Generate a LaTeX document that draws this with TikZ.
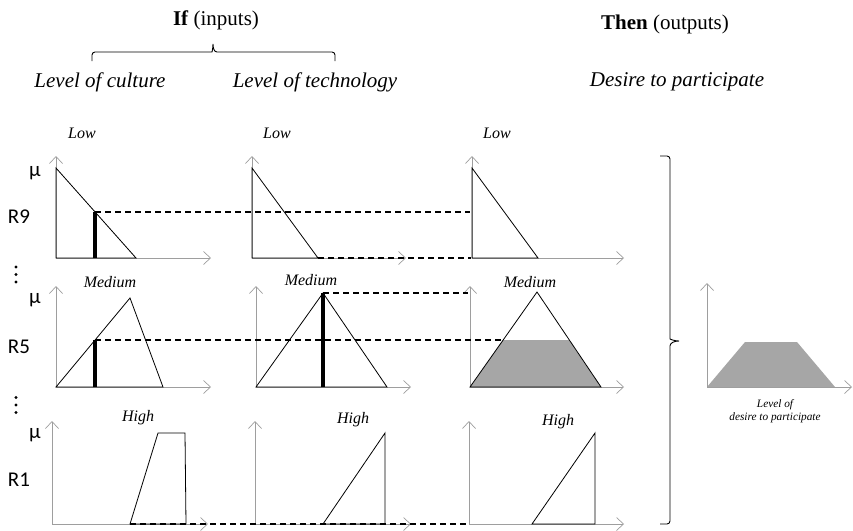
\documentclass[tikz,border=0pt]{standalone}
\usepackage{fontspec}
\setmainfont{Liberation Serif}
\newfontfamily\calib{Carlito}
\usetikzlibrary{arrows.meta}
\begin{document}
\begin{tikzpicture}[x=1pt,y=-1pt,
  axis/.style={draw=black!38, line width=0.7pt, -{Straight Barb[length=7pt,width=13pt]}},
  mf/.style={draw=black, line width=0.8pt},
  cutline/.style={draw=black, dash pattern=on 6pt off 4pt, line width=1.2pt},
  bar/.style={draw=black, line width=4pt},
  setlab/.style={font=\fontsize{16}{18}\selectfont\itshape, inner sep=0pt},
  head/.style={font=\fontsize{21}{24}\selectfont, inner sep=0pt},
  varlab/.style={font=\fontsize{21}{24}\selectfont\itshape, inner sep=0pt},
  rule/.style={font=\calib\fontsize{21}{24}\selectfont, inner sep=0pt},
  small/.style={font=\fontsize{11.3}{13}\selectfont\itshape, inner sep=0pt, align=center},
  outfill/.style={fill=black!35, draw=none},
  bracestyle/.style={draw=black, line width=0.9pt},
  dotmark/.style={fill=black, draw=none}
]
\useasboundingbox (0,0) rectangle (853,530);

% ---------- headers ----------
\node[head] (ifh) at (216,20) {\textbf{If} (inputs)};
\node[head] (thenh) at (665,24) {\textbf{Then} (outputs)};
\draw[bracestyle] (92,61) [rounded corners=3pt] -- (92,52) -- (209,52) [sharp corners]
  .. controls (212,52) and (213,48) .. (213,44)
  .. controls (213,48) and (214,52) .. (217,52) [rounded corners=3pt] -- (335,52) -- (335,61);
\node[varlab] (vculture) at (100,82) {Level of culture};
\node[varlab] (vtech) at (315,82) {Level of technology};
\node[varlab] (vdesire) at (677,82) {Desire to participate};

% ---------- rule labels ----------
\node[rule] (mu1) at (35,173) {μ};
\node[rule] (mu2) at (35,300) {μ};
\node[rule] (mu3) at (35,435) {μ};
\node[rule] (r9) at (19,217) {R9};
\node[rule] (r5) at (19,347) {R5};
\node[rule] (r1) at (19,480) {R1};
\foreach \yy in {267,274.5,282,397.5,405,412.5}
  \fill[dotmark] (16,\yy) circle (1.7);

% ---------- set labels ----------
\node[setlab] (l1) at (82,133) {Low};
\node[setlab] (l2) at (277,133) {Low};
\node[setlab] (l3) at (497,133) {Low};
\node[setlab] (m1) at (110,282) {Medium};
\node[setlab] (m2) at (311,280) {Medium};
\node[setlab] (m3) at (530,282) {Medium};
\node[setlab] (h1) at (138,418) {High};
\node[setlab] (h2) at (353,420) {High};
\node[setlab] (h3) at (558,422) {High};

% ---------- row 1 (R9) ----------
\draw[axis] (56,258) -- (56,156);
\draw[axis] (56,258) -- (211,258);
\draw[axis] (252,258) -- (252,156);
\draw[axis] (252,258) -- (406,258);
\draw[axis] (472,258) -- (472,156);
\draw[axis] (472,258) -- (624,258);
\draw[mf] (56,168) -- (136,258) -- (56,258) -- cycle;
\draw[mf] (252,168) -- (318,258) -- (252,258) -- cycle;
\draw[mf] (472,168) -- (538,258) -- (472,258) -- cycle;
\coordinate (b9) at (95,258);
\coordinate (c9) at (95,212);
\coordinate (e9) at (470,212);
\coordinate (t9) at (318,258);
\coordinate (u9) at (471,258);
\draw[bar] (b9) -- (c9);
\draw[cutline] (c9) -- (e9);
\draw[cutline] (t9) -- (u9);

% ---------- row 2 (R5) ----------
\draw[axis] (56,387) -- (56,286);
\draw[axis] (56,387) -- (211,387);
\draw[axis] (256,387) -- (256,286);
\draw[axis] (256,387) -- (411,387);
\draw[axis] (470,387) -- (470,286);
\draw[axis] (470,387) -- (624,387);
\draw[mf] (56,387) -- (130,298) -- (163,387) -- cycle;
\draw[mf] (256,387) -- (323,293) -- (387,387) -- cycle;
\fill[outfill] (470,387) -- (503,340) -- (569,340) -- (601,387) -- cycle;
\draw[mf] (470,387) -- (537,292) -- (601,387) -- cycle;
\coordinate (b5) at (95,387);
\coordinate (c5) at (95,340);
\coordinate (e5) at (503,340);
\coordinate (b5m) at (323,387);
\coordinate (c5m) at (323,293);
\coordinate (e5m) at (468,293);
\draw[bar] (b5) -- (c5);
\draw[bar] (b5m) -- (c5m);
\draw[cutline] (c5) -- (e5);
\draw[cutline] (c5m) -- (e5m);

% ---------- row 3 (R1) ----------
\draw[axis] (52,524) -- (52,421);
\draw[axis] (52,524) -- (208,524);
\draw[axis] (255,524) -- (255,421);
\draw[axis] (255,524) -- (411,524);
\draw[axis] (469,524) -- (469,421);
\draw[axis] (469,524) -- (624,524);
\draw[mf] (130,524) -- (158,433) -- (185,433) -- (186,524) -- cycle;
\draw[mf] (323,524) -- (385,433) -- (385,524) -- cycle;
\draw[mf] (532,524) -- (595,433) -- (595,524) -- cycle;
\coordinate (s1) at (130,524);
\coordinate (e1) at (469,524);
\draw[cutline] (s1) -- (e1);

% ---------- aggregation ----------
\draw[bracestyle] (660,156) [rounded corners=3pt] -- (670,156) -- (670,336) [sharp corners]
  .. controls (670,339) and (674,341) .. (679,341)
  .. controls (674,341) and (670,343) .. (670,346) [rounded corners=3pt] -- (670,524) -- (660,524);
\fill[outfill] (707,387) -- (745,342) -- (797,342) -- (835,387) -- cycle;
\draw[axis] (707,387) -- (707,283);
\draw[axis] (707,387) -- (852,387);
\node[small] (outlab) at (775,411) {Level of\\desire to participate};
\end{tikzpicture}
\end{document}
